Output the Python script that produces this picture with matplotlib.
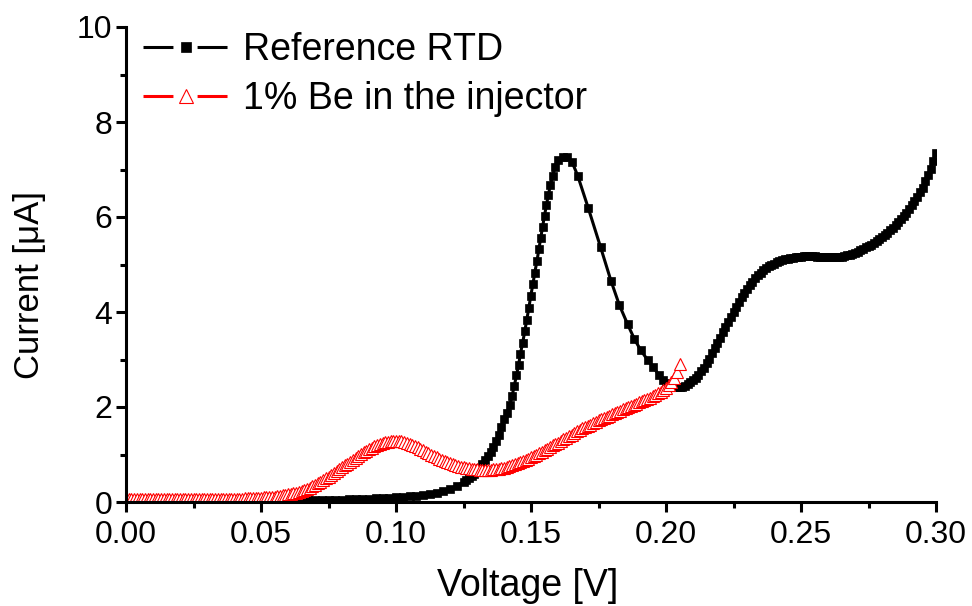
import matplotlib
matplotlib.use("Agg")
import matplotlib.pyplot as plt
from matplotlib.lines import Line2D
from matplotlib.ticker import MultipleLocator, FormatStrFormatter

plt.rcParams['font.family'] = ['Liberation Sans', 'DejaVu Sans']

# Reference RTD: voltage [V] and current [uA]
ref_v = [0.000, 0.005, 0.010, 0.015, 0.020, 0.025, 0.030, 0.035, 0.040, 0.045,
         0.050, 0.055, 0.060, 0.0625, 0.065, 0.0675, 0.070, 0.0725, 0.075, 0.0775,
         0.080, 0.0825, 0.085, 0.0875, 0.090, 0.0925, 0.095, 0.0975, 0.100, 0.1025,
         0.105, 0.1075, 0.110, 0.1125, 0.115, 0.1175, 0.120, 0.1225, 0.125,
         0.126, 0.127, 0.128, 0.129, 0.130, 0.131, 0.132, 0.133, 0.134, 0.135,
         0.136, 0.137, 0.138, 0.139, 0.140, 0.141,
         0.1422, 0.1430, 0.1438, 0.1446, 0.1454, 0.1461, 0.1469, 0.1477, 0.1484, 0.1492,
         0.1499, 0.1507, 0.1514, 0.1522, 0.1529, 0.1536, 0.1543, 0.1550, 0.1557, 0.1564,
         0.1572, 0.1580, 0.1589, 0.1601, 0.1617, 0.1634, 0.1652,
         0.1673, 0.1712, 0.1758, 0.1796, 0.1827, 0.1858, 0.1883, 0.1907, 0.1932, 0.1953,
         0.1974, 0.199,
         0.200, 0.201, 0.202, 0.203, 0.204, 0.205, 0.206, 0.207, 0.208, 0.209,
         0.210, 0.211, 0.212, 0.213, 0.214, 0.215, 0.216, 0.217, 0.218, 0.219,
         0.220, 0.221, 0.222, 0.223, 0.224, 0.225, 0.226, 0.227, 0.228, 0.229,
         0.230, 0.231, 0.232, 0.233, 0.234, 0.235, 0.236, 0.237, 0.238, 0.239,
         0.240, 0.241, 0.242, 0.243, 0.244, 0.245, 0.246, 0.247, 0.248, 0.249,
         0.250, 0.251, 0.252, 0.253, 0.254, 0.255, 0.256, 0.257, 0.258, 0.259,
         0.260, 0.261, 0.262, 0.263, 0.264, 0.265, 0.266, 0.267, 0.268, 0.269,
         0.270, 0.271, 0.272, 0.273, 0.274, 0.275, 0.276, 0.277, 0.278, 0.279,
         0.280, 0.281, 0.282, 0.283, 0.284, 0.285, 0.286, 0.287, 0.288, 0.289,
         0.290, 0.291, 0.292, 0.293, 0.294, 0.295, 0.296, 0.297, 0.298, 0.299,
         0.300]
ref_i = [0.02, 0.02, 0.02, 0.02, 0.02, 0.02, 0.02, 0.02, 0.02, 0.03,
         0.03, 0.03, 0.03, 0.03, 0.03, 0.035, 0.04, 0.04, 0.045, 0.05,
         0.05, 0.055, 0.06, 0.065, 0.07, 0.075, 0.08, 0.09, 0.10, 0.11,
         0.12, 0.13, 0.14, 0.16, 0.19, 0.23, 0.28, 0.34, 0.42,
         0.46, 0.50, 0.55, 0.60, 0.66, 0.72, 0.80, 0.88, 0.97, 1.06,
         1.16, 1.28, 1.42, 1.58, 1.74, 1.87,
         2.04, 2.24, 2.44, 2.67, 2.89, 3.12, 3.35, 3.59, 3.83, 4.08,
         4.34, 4.58, 4.83, 5.07, 5.32, 5.56, 5.80, 6.03, 6.25, 6.46,
         6.67, 6.86, 7.05, 7.19, 7.27, 7.27, 7.16,
         6.87, 6.19, 5.36, 4.66, 4.15, 3.74, 3.43, 3.19, 2.99, 2.84,
         2.67, 2.56,
         2.50, 2.47, 2.45, 2.43, 2.42, 2.42, 2.43, 2.45, 2.48, 2.52,
         2.57, 2.62, 2.68, 2.75, 2.83, 2.92, 3.02, 3.13, 3.24, 3.35,
         3.46, 3.57, 3.68, 3.79, 3.90, 4.01, 4.11, 4.21, 4.31, 4.40,
         4.49, 4.57, 4.64, 4.71, 4.77, 4.83, 4.88, 4.92, 4.96, 4.99,
         5.02, 5.05, 5.07, 5.09, 5.11, 5.12, 5.13, 5.14, 5.15, 5.16,
         5.16, 5.17, 5.17, 5.17, 5.17, 5.17, 5.16, 5.16, 5.16, 5.16,
         5.16, 5.16, 5.16, 5.16, 5.16, 5.16, 5.17, 5.19, 5.20, 5.22,
         5.24, 5.27, 5.30, 5.33, 5.36, 5.39, 5.42, 5.45, 5.49, 5.53,
         5.57, 5.62, 5.67, 5.72, 5.77, 5.83, 5.89, 5.95, 6.02, 6.09,
         6.17, 6.25, 6.34, 6.43, 6.52, 6.62, 6.75, 6.88, 7.02, 7.17,
         7.35]

# 1% Be in the injector
be_v = [0.000, 0.001, 0.002, 0.003, 0.004, 0.005, 0.006, 0.007, 0.008, 0.009,
        0.010, 0.011, 0.012, 0.013, 0.014, 0.015, 0.016, 0.017, 0.018, 0.019,
        0.020, 0.021, 0.022, 0.023, 0.024, 0.025, 0.026, 0.027, 0.028, 0.029,
        0.030, 0.031, 0.032, 0.033, 0.034, 0.035, 0.036, 0.037, 0.038, 0.039,
        0.040, 0.041, 0.042, 0.043, 0.044, 0.045, 0.046, 0.047, 0.048, 0.049,
        0.050, 0.051, 0.052, 0.053, 0.054, 0.055, 0.056, 0.057, 0.058, 0.059,
        0.060, 0.061, 0.062, 0.063, 0.064, 0.065, 0.066, 0.067, 0.068, 0.069,
        0.070, 0.071, 0.072, 0.073, 0.074, 0.075, 0.076, 0.077, 0.078, 0.079,
        0.080, 0.081, 0.082, 0.083, 0.084, 0.085, 0.086, 0.087, 0.088, 0.089,
        0.090, 0.091, 0.092, 0.093, 0.094, 0.095, 0.096, 0.097, 0.098, 0.099,
        0.100, 0.101, 0.102, 0.103, 0.104, 0.105, 0.106, 0.107, 0.108, 0.109,
        0.110, 0.111, 0.112, 0.113, 0.114, 0.115, 0.116, 0.117, 0.118, 0.119,
        0.120, 0.121, 0.122, 0.123, 0.124, 0.125, 0.126, 0.127, 0.128, 0.129,
        0.130, 0.131, 0.132, 0.133, 0.134, 0.135, 0.136, 0.137, 0.138, 0.139,
        0.140, 0.141, 0.142, 0.143, 0.144, 0.145, 0.146, 0.147, 0.148, 0.149,
        0.150, 0.151, 0.152, 0.153, 0.154, 0.155, 0.156, 0.157, 0.158, 0.159,
        0.160, 0.161, 0.162, 0.163, 0.164, 0.165, 0.166, 0.167, 0.168, 0.169,
        0.170, 0.171, 0.172, 0.173, 0.174, 0.175, 0.176, 0.177, 0.178, 0.179,
        0.180, 0.181, 0.182, 0.183, 0.184, 0.185, 0.186, 0.187, 0.188, 0.189,
        0.190, 0.191, 0.192, 0.193, 0.194, 0.195, 0.196, 0.197, 0.198, 0.199,
        0.200, 0.201, 0.202, 0.203, 0.204, 0.205]
be_i = [0.06, 0.06, 0.06, 0.06, 0.06, 0.06, 0.06, 0.06, 0.06, 0.06,
        0.06, 0.06, 0.06, 0.06, 0.06, 0.06, 0.06, 0.06, 0.06, 0.06,
        0.06, 0.06, 0.06, 0.06, 0.06, 0.06, 0.06, 0.06, 0.06, 0.06,
        0.06, 0.065, 0.065, 0.065, 0.065, 0.065, 0.065, 0.065, 0.065, 0.065,
        0.065, 0.07, 0.07, 0.07, 0.075, 0.075, 0.08, 0.08, 0.085, 0.09,
        0.09, 0.095, 0.10, 0.10, 0.11, 0.115, 0.12, 0.13, 0.14, 0.15,
        0.16, 0.17, 0.19, 0.20, 0.22, 0.24, 0.26, 0.28, 0.30, 0.33,
        0.36, 0.39, 0.42, 0.46, 0.50, 0.53, 0.57, 0.61, 0.65, 0.69,
        0.73, 0.77, 0.81, 0.85, 0.89, 0.93, 0.97, 1.01, 1.05, 1.08,
        1.11, 1.14, 1.17, 1.20, 1.22, 1.24, 1.26, 1.27, 1.28, 1.29,
        1.29, 1.29, 1.28, 1.27, 1.25, 1.23, 1.21, 1.18, 1.15, 1.12,
        1.09, 1.06, 1.03, 1.00, 0.97, 0.94, 0.91, 0.89, 0.86, 0.84,
        0.82, 0.80, 0.78, 0.76, 0.74, 0.73, 0.72, 0.71, 0.70, 0.69,
        0.69, 0.68, 0.68, 0.68, 0.68, 0.68, 0.69, 0.69, 0.70, 0.71,
        0.72, 0.74, 0.76, 0.78, 0.80, 0.82, 0.84, 0.86, 0.89, 0.91,
        0.94, 0.97, 1.00, 1.03, 1.06, 1.09, 1.12, 1.15, 1.19, 1.22,
        1.25, 1.29, 1.32, 1.35, 1.39, 1.42, 1.45, 1.49, 1.52, 1.55,
        1.58, 1.61, 1.63, 1.66, 1.69, 1.72, 1.74, 1.77, 1.80, 1.82,
        1.85, 1.87, 1.90, 1.92, 1.95, 1.97, 2.00, 2.02, 2.05, 2.07,
        2.10, 2.12, 2.15, 2.17, 2.20, 2.23, 2.26, 2.29, 2.32, 2.36,
        2.41, 2.46, 2.53, 2.62, 2.74, 2.90]

labels = ['Reference RTD', '1% Be in the injector']

fig = plt.figure(figsize=(9.72, 6.06), dpi=100)
ax = fig.add_axes([126 / 972, 104 / 606, 810 / 972, 475 / 606])

ax.plot(ref_v, ref_i, color='black', lw=2.2, marker='s', ms=6,
        mfc='black', mec='black', mew=0.5)
ax.plot(be_v, be_i, color='red', lw=2.2, marker='^', ms=8.5,
        mfc='white', mec='red', mew=0.8)

ax.set_xlim(0, 0.30)
ax.set_ylim(0, 10)
ax.xaxis.set_major_locator(MultipleLocator(0.05))
ax.xaxis.set_minor_locator(MultipleLocator(0.025))
ax.xaxis.set_major_formatter(FormatStrFormatter('%.2f'))
ax.yaxis.set_major_locator(MultipleLocator(2))
ax.yaxis.set_minor_locator(MultipleLocator(1))

for side in ['top', 'right']:
    ax.spines[side].set_visible(False)
for side in ['left', 'bottom']:
    ax.spines[side].set_linewidth(2.2)

ax.tick_params(which='major', direction='out', length=7, width=2.2,
               labelsize=23, pad=6)
ax.tick_params(which='minor', direction='out', length=4.5, width=2.2)
ax.tick_params(axis='y', which='major', pad=3)

ax.set_xlabel('Voltage [V]', fontsize=27)
ax.set_ylabel('Current [\u03bcA]', fontsize=25)
ax.xaxis.set_label_coords(0.496, -0.138)
ax.yaxis.set_label_coords(-0.099, 0.457)

# Origin-style legend keys: line, gap, marker, gap, line
gap_dash = (0, (9.8, 7.9))
handles = [
    Line2D([], [], color='black', lw=2.2, ls=gap_dash, marker='s', ms=7.2,
           mfc='black', mec='black', mew=0.5),
    Line2D([], [], color='red', lw=2.2, ls=gap_dash, marker='^', ms=10,
           mfc='white', mec='red', mew=0.8),
]
ax.legend(handles, labels, loc='upper left', bbox_to_anchor=(0.021, 0.989),
          frameon=False, fontsize=27, handlelength=2.27, handletextpad=0.4,
          labelspacing=0.35, borderaxespad=0, borderpad=0, numpoints=1)

fig.savefig('out.png', dpi=100)
